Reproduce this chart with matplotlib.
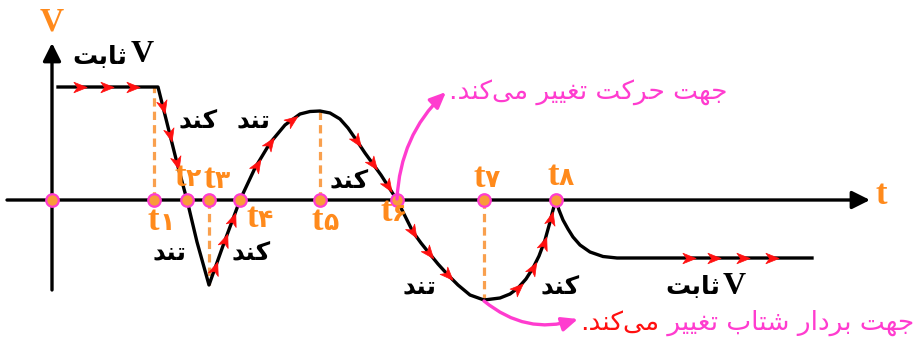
import numpy as np
import matplotlib
matplotlib.use('Agg')
import matplotlib.pyplot as plt
from matplotlib.path import Path
from matplotlib.markers import MarkerStyle
from matplotlib.transforms import Affine2D
from matplotlib.patches import FancyArrowPatch

# ---------------- data ----------------
event_labels = ['t۱', 't۲', 't۳', 't۴', 't۵', 't۶', 't۷', 't۸']
event_times = [102, 135, 157, 188, 268, 345, 432, 504]
dashed_events = ['t۱', 't۳', 't۵', 't۷']

curve_t = [6, 106, 111, 118, 125, 135, 145, 157, 172, 188, 203, 218, 233, 248, 258,
           268, 278, 288, 296, 305, 313, 321, 329, 336, 345, 353, 361, 369, 377,
           386, 396, 406, 418, 432, 448, 458, 466, 474, 481, 487, 493, 498, 501,
           504, 507, 511, 516, 521, 528, 538, 551, 565, 588, 760]
curve_v = [113, 113, 93, 65, 37, 0, -42, -85, -43, 0, 32, 57, 75, 86, 88.5,
           89, 87, 81, 72, 59, 47, 36, 25, 14, 0, -16, -32, -43, -53,
           -64, -75, -85, -95, -100, -98, -94, -88, -79, -68, -56, -40, -22, -10,
           0, -10, -20, -29, -37, -45, -52, -56.5, -58, -58, -58]

arrow_t = [28, 55, 81, 111, 118, 125, 163, 173, 181, 205, 218, 240,
           305, 321, 336, 361, 377, 396, 466, 481, 492, 499, 637, 662, 691, 720]

label_slow = 'کند'
label_fast = 'تند'
label_const = 'ثابت'
note_top = 'جهت حرکت تغییر می\u200cکند.'
note_bottom_a = 'جهت بردار شتاب تغییر '
note_bottom_b = 'می\u200cکند.'

# ------------- simple Persian shaping for display -------------
FORMS = {
    'ا': ('\uFE8D', '\uFE8E', None, None),
    'ب': ('\uFE8F', '\uFE90', '\uFE91', '\uFE92'),
    'ت': ('\uFE95', '\uFE96', '\uFE97', '\uFE98'),
    'ث': ('\uFE99', '\uFE9A', '\uFE9B', '\uFE9C'),
    'ج': ('\uFE9D', '\uFE9E', '\uFE9F', '\uFEA0'),
    'ح': ('\uFEA1', '\uFEA2', '\uFEA3', '\uFEA4'),
    'د': ('\uFEA9', '\uFEAA', None, None),
    'ر': ('\uFEAD', '\uFEAE', None, None),
    'ش': ('\uFEB5', '\uFEB6', '\uFEB7', '\uFEB8'),
    'غ': ('\uFECD', '\uFECE', '\uFECF', '\uFED0'),
    'م': ('\uFEE1', '\uFEE2', '\uFEE3', '\uFEE4'),
    'ن': ('\uFEE5', '\uFEE6', '\uFEE7', '\uFEE8'),
    'ه': ('\uFEE9', '\uFEEA', '\uFEEB', '\uFEEC'),
    'ک': ('\uFB8E', '\uFB8F', '\uFB90', '\uFB91'),
    'ی': ('\uFBFC', '\uFBFD', '\uFBFE', '\uFBFF'),
}


def fa(s):
    out = []
    for i, c in enumerate(s):
        if c == '\u200c':
            continue
        if c not in FORMS:
            out.append(c)
            continue
        f = FORMS[c]
        prev = s[i - 1] if i > 0 else None
        nxt = s[i + 1] if i + 1 < len(s) else None
        jp = prev in FORMS and FORMS[prev][2] is not None
        jn = f[2] is not None and nxt in FORMS
        if jp and jn:
            g = f[3]
        elif jp:
            g = f[1]
        elif jn:
            g = f[2]
        else:
            g = f[0]
        out.append(g)
    return ''.join(reversed(out))


# ---------------- figure ----------------
ORANGE = '#ff8a1c'
DOT = '#f99b3a'
DASH = '#f9a04e'
PINK = '#ff3ccf'
RED = '#ff1010'

fig = plt.figure(figsize=(9.16, 3.4), dpi=100)
ax = fig.add_axes([0, 0, 1, 1])
ax.set_xlim(-52, 864)
ax.set_ylim(-140, 200)
ax.axis('off')

ct = np.array(curve_t, float)
cv = np.array(curve_v, float)


def vel(t):
    return np.interp(t, ct, cv)


# axes
ax.add_patch(FancyArrowPatch((-45, 0), (818, 0), arrowstyle='-|>,head_length=0.9,head_width=0.45',
                             mutation_scale=12, lw=2.4, color='black', shrinkA=0, shrinkB=0, zorder=2))
ax.add_patch(FancyArrowPatch((0, -90), (0, 157), arrowstyle='-|>,head_length=0.9,head_width=0.45',
                             mutation_scale=12, lw=2.4, color='black', shrinkA=0, shrinkB=0, zorder=2))
ax.text(0, 178, 'V', ha='center', va='center', fontsize=24, fontweight='bold',
        family='Liberation Serif', color=ORANGE)
ax.text(829, 4, 't', ha='center', va='center', fontsize=25, fontweight='bold',
        family='Liberation Serif', color=ORANGE)

# dashed guides
for lab, t in zip(event_labels, event_times):
    if lab in dashed_events:
        ax.plot([t, t], [0, vel(t)], color=DASH, lw=2.3, dashes=(2.6, 1.6), zorder=3)

# curve
ax.plot(ct, cv, color='black', lw=2.4, zorder=4, solid_joinstyle='round')

# red direction arrowheads
head = Path([(1.0, 0.0), (-1.0, 0.8), (-0.45, 0.0), (-1.0, -0.8), (1.0, 0.0)],
            [Path.MOVETO, Path.LINETO, Path.LINETO, Path.LINETO, Path.CLOSEPOLY])
for t in arrow_t:
    d = 1.2
    ang = np.degrees(np.arctan2(vel(t + d) - vel(t - d), 2 * d))
    m = MarkerStyle(head, transform=Affine2D().rotate_deg(ang))
    ax.plot([t], [vel(t)], marker=m, markersize=9.5, color=RED, mec=RED, mew=0.5, zorder=5)

# event dots
ax.plot([0] + event_times, [0] * (len(event_times) + 1), 'o', ms=9, mfc=DOT, mec=PINK,
        mew=1.6, zorder=6, linestyle='none')

# event labels
label_pos = {
    't۱': (105, -22), 't۲': (132, 22), 't۳': (161, 20), 't۴': (204, -19),
    't۵': (269, -22), 't۶': (338, -13), 't۷': (431, 21), 't۸': (505, 23),
}
for lab in event_labels:
    x, y = label_pos[lab]
    ax.text(x, y, lab[0], ha='right', va='baseline', fontsize=25, fontweight='bold',
            family='Liberation Serif', color=ORANGE, zorder=7,
            transform=ax.transData + Affine2D().translate(2, -8))
    ax.text(x, y, lab[1], ha='left', va='baseline', fontsize=18, fontweight='bold',
            family='DejaVu Sans', color=ORANGE, zorder=7,
            transform=ax.transData + Affine2D().translate(2, -8))

# black annotations
blk = dict(ha='center', va='center', fontsize=18, fontweight='bold', family='DejaVu Sans',
           color='black', zorder=7)
ax.text(48, 143, fa(label_const), **blk)
ax.text(90, 145, 'V', ha='center', va='center', fontsize=23, fontweight='bold',
        family='Liberation Serif', color='black')
ax.text(146, 80, fa(label_slow), **blk)
ax.text(202, 80, fa(label_fast), **blk)
ax.text(117, -52, fa(label_fast), **blk)
ax.text(199, -52, fa(label_slow), **blk)
ax.text(297, 20, fa(label_slow), **blk)
ax.text(368, -86, fa(label_fast), **blk)
ax.text(508, -86, fa(label_slow), **blk)
ax.text(641, -87, fa(label_const), **blk)
ax.text(682, -86, 'V', ha='center', va='center', fontsize=23, fontweight='bold',
        family='Liberation Serif', color='black')

# pink notes
t6 = event_times[event_labels.index('t۶')]
t7 = event_times[event_labels.index('t۷')]
ax.add_patch(FancyArrowPatch((t6, 1), (394, 108), connectionstyle='arc3,rad=-0.2',
                             arrowstyle='-|>,head_length=0.8,head_width=0.35', mutation_scale=12,
                             lw=2.4, color=PINK, shrinkA=0, shrinkB=0, zorder=8))
ax.add_patch(FancyArrowPatch((t7, vel(t7) - 1), (526, -119), connectionstyle='arc3,rad=0.27',
                             arrowstyle='-|>,head_length=0.8,head_width=0.35', mutation_scale=12,
                             lw=2.4, color=PINK, shrinkA=0, shrinkB=0, zorder=8))

ax.text(675, 108, fa(note_top), ha='right', va='center', fontsize=19,
        family='DejaVu Sans', color=PINK)
tb = ax.text(862, -130, fa(note_bottom_a), ha='right', va='baseline', fontsize=19,
             family='DejaVu Sans', color=PINK)
fig.canvas.draw()
bb = tb.get_window_extent(fig.canvas.get_renderer())
x0 = ax.transData.inverted().transform((bb.x0, bb.y0))[0]
ax.text(x0, -130, fa(note_bottom_b), ha='right', va='baseline', fontsize=19,
        family='DejaVu Sans', color=RED)

fig.savefig('out.png', dpi=100)
